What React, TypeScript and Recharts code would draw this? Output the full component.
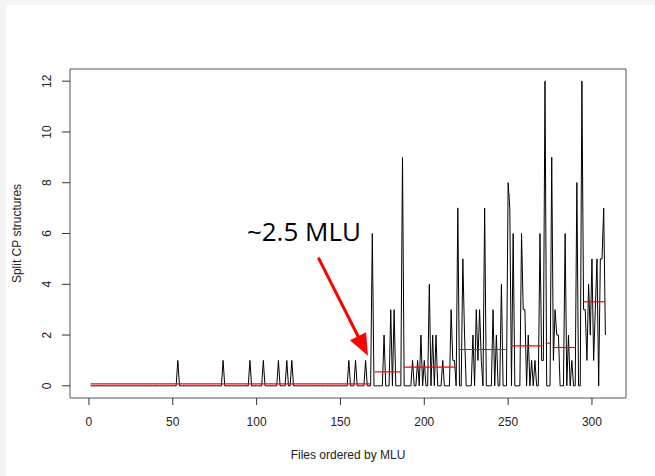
import React from "react";
import {
  LineChart,
  Line,
  XAxis,
  YAxis,
  ReferenceLine,
  ReferenceArea,
  ReferenceDot,
} from "recharts";

// Split CP structures per file, files 1..308 ordered by MLU
const counts: number[] = [
  0, 0, 0, 0, 0, 0, 0, 0, 0, 0, // 1-10
  0, 0, 0, 0, 0, 0, 0, 0, 0, 0, // 11-20
  0, 0, 0, 0, 0, 0, 0, 0, 0, 0, // 21-30
  0, 0, 0, 0, 0, 0, 0, 0, 0, 0, // 31-40
  0, 0, 0, 0, 0, 0, 0, 0, 0, 0, // 41-50
  0, 0, 1, 0, 0, 0, 0, 0, 0, 0, // 51-60
  0, 0, 0, 0, 0, 0, 0, 0, 0, 0, // 61-70
  0, 0, 0, 0, 0, 0, 0, 0, 0, 1, // 71-80
  0, 0, 0, 0, 0, 0, 0, 0, 0, 0, // 81-90
  0, 0, 0, 0, 0, 1, 0, 0, 0, 0, // 91-100
  0, 0, 0, 1, 0, 0, 0, 0, 0, 0, // 101-110
  0, 0, 1, 0, 0, 0, 0, 1, 0, 0, // 111-120
  1, 0, 0, 0, 0, 0, 0, 0, 0, 0, // 121-130
  0, 0, 0, 0, 0, 0, 0, 0, 0, 0, // 131-140
  0, 0, 0, 0, 0, 0, 0, 0, 0, 0, // 141-150
  0, 0, 0, 0, 1, 0, 0, 0, 1, 0, // 151-160
  0, 0, 0, 0, 1, 0, 0, 0, 6, 0, // 161-170
  0, 0, 0, 0, 0, 2, 0, 0, 0, 3, // 171-180
  0, 3, 0, 0, 0, 0, 9, 0, 0, 0, // 181-190
  0, 0, 1, 0, 0, 1, 0, 2, 0, 1, // 191-200
  0, 0, 4, 0, 2, 0, 2, 0, 0, 0, // 201-210
  1, 0, 0, 0, 0, 3, 1, 1, 0, 7, // 211-220
  0, 0, 5, 2, 0, 0, 0, 0, 2, 0, // 221-230
  3, 1, 3, 1, 0, 7, 0, 0, 0, 0, // 231-240
  3, 0, 2, 0, 0, 4, 0, 0, 0, 8, // 241-250
  7, 0, 6, 0, 0, 0, 0, 6, 3, 3, // 251-260
  0, 2, 0, 1, 0, 1, 0, 0, 6, 1, // 261-270
  1, 12, 0, 0, 0, 9, 1, 3, 2, 2, // 271-280
  0, 0, 0, 6, 0, 2, 0, 1, 0, 0, // 281-290
  8, 0, 0, 12, 3, 3, 1, 4, 2, 5, // 291-300
  1, 3, 5, 0, 5, 5, 7, 2, // 301-308
];

// Red group means: start file, end file, mean
const groupStart: number[] = [1, 168.8, 170.5, 186.8, 188, 219.8, 221, 250, 251.5, 271.8, 272.3, 276.5, 290.8, 292.3, 293.8, 294.8];
const groupEnd: number[] = [168, 169.2, 185.8, 187.2, 218.7, 220.2, 248.5, 251.2, 270.5, 272.2, 275.3, 290.4, 291.2, 292.9, 294.2, 307.8];
const groupMean: number[] = [0.08, 6, 0.55, 9, 0.74, 7, 1.43, 7.5, 1.57, 12, 1.68, 1.51, 8, 0, 12, 3.31];

const xTicks: number[] = [0, 50, 100, 150, 200, 250, 300];
const yTicks: number[] = [0, 2, 4, 6, 8, 10, 12];

const xDomain: [number, number] = [-11.3, 320.3];
const yDomain: [number, number] = [-0.48, 12.48];

const annotationText = "~2.5 MLU";

const data = counts.map((v, i) => ({ file: i + 1, v }));

const FONT = "'Liberation Sans', Arial, Helvetica, sans-serif";

const YTick = (props: any) => {
  const { x, y, payload } = props;
  const tx = x - 10.7;
  return (
    <text
      x={tx}
      y={y}
      transform={`rotate(-90, ${tx}, ${y})`}
      textAnchor="middle"
      fontSize={12}
      fontFamily={FONT}
      fill="#222"
    >
      {payload.value}
    </text>
  );
};

const Arrow = (props: any) => {
  const { x1, y1, x2, y2 } = props;
  const dx = x2 - x1;
  const dy = y2 - y1;
  const len = Math.sqrt(dx * dx + dy * dy);
  const ux = dx / len;
  const uy = dy / len;
  const px = uy;
  const py = -ux;
  const headLen = 22;
  const halfW = 9;
  const bx = x2 - headLen * ux;
  const by = y2 - headLen * uy;
  const pts = `${x2},${y2} ${bx + halfW * px},${by + halfW * py} ${bx - halfW * px},${by - halfW * py}`;
  return (
    <g>
      <line x1={x1} y1={y1} x2={bx + ux * 2} y2={by + uy * 2} stroke="#ff0000" strokeWidth={3} />
      <polygon points={pts} fill="#ff0000" />
    </g>
  );
};

const AnnotationLabel = (props: any) => {
  const { cx, cy } = props;
  return (
    <text
      x={cx}
      y={cy}
      fontSize={26}
      fontFamily="'Open Sans', 'Noto Sans', sans-serif"
      fill="#000"
      textAnchor="start"
    >
      {annotationText}
    </text>
  );
};

export default function App() {
  return (
    <div style={{ position: "absolute", left: 0, top: 0, width: 655, height: 476, background: "#f4f4f4" }}>
      <div style={{ position: "absolute", left: 6, top: 5, width: 649, height: 471, background: "#ffffff" }} />
      <div style={{ position: "absolute", left: 0, top: 0 }}>
        <LineChart
          width={655}
          height={476}
          data={data}
          margin={{ top: 69, right: 29, bottom: 0, left: 0 }}
        >
          <XAxis
            dataKey="file"
            type="number"
            domain={xDomain}
            ticks={xTicks}
            allowDataOverflow
            axisLine={false}
            tickSize={7}
            tickMargin={12}
            tickLine={{ stroke: "#333" }}
            tick={{ fontSize: 12, fill: "#222", fontFamily: FONT }}
            height={78}
            label={(p: any) => {
              const vb = p.viewBox || {};
              return (
                <text
                  x={vb.x + vb.width / 2}
                  y={vb.y + 61}
                  textAnchor="middle"
                  fontSize={12}
                  fontFamily={FONT}
                  fill="#222"
                >
                  Files ordered by MLU
                </text>
              );
            }}
          />
          <YAxis
            type="number"
            domain={yDomain}
            ticks={yTicks}
            allowDataOverflow
            axisLine={false}
            tickSize={8}
            tickMargin={0}
            tickLine={{ stroke: "#333" }}
            tick={<YTick />}
            width={70}
            label={(p: any) => {
              const vb = p.viewBox || {};
              const lx = vb.x + 21;
              const ly = vb.y + vb.height / 2;
              return (
                <text
                  x={lx}
                  y={ly}
                  transform={`rotate(-90, ${lx}, ${ly})`}
                  textAnchor="middle"
                  fontSize={12}
                  fontFamily={FONT}
                  fill="#222"
                >
                  Split CP structures
                </text>
              );
            }}
          />
          <ReferenceArea
            x1={xDomain[0]}
            x2={xDomain[1]}
            y1={yDomain[0]}
            y2={yDomain[1]}
            fill="none"
            fillOpacity={0}
            stroke="#555"
            strokeWidth={1}
            ifOverflow="visible"
          />
          <Line
            type="linear"
            dataKey="v"
            stroke="#000"
            strokeWidth={1}
            dot={false}
            activeDot={false}
            isAnimationActive={false}
          />
          {groupMean.map((m, i) => (
            <ReferenceLine
              key={`g${i}`}
              segment={[
                { x: groupStart[i], y: m },
                { x: groupEnd[i], y: m },
              ]}
              stroke="#ff0000"
              strokeWidth={1.2}
              ifOverflow="visible"
            />
          ))}
          <ReferenceLine
            segment={[
              { x: 136.8, y: 5.05 },
              { x: 166.4, y: 1.18 },
            ]}
            ifOverflow="visible"
            shape={<Arrow />}
          />
          <ReferenceDot
            x={94.2}
            y={5.7}
            r={0}
            ifOverflow="visible"
            shape={<AnnotationLabel />}
          />
        </LineChart>
      </div>
    </div>
  );
}
